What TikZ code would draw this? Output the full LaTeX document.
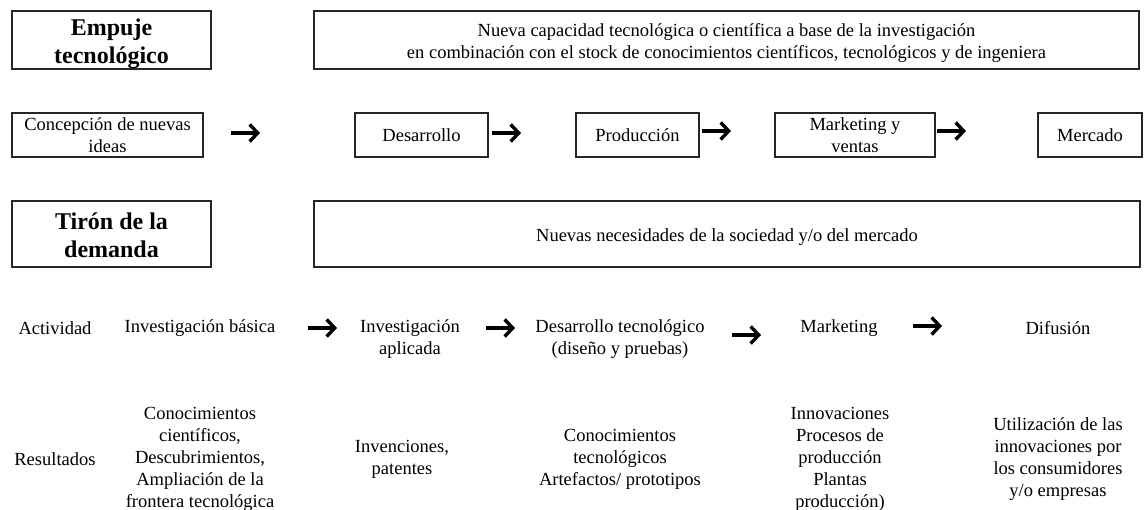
\documentclass[tikz,border=0pt]{standalone}
\usepackage{fontspec}
\setmainfont{Liberation Serif}
\usetikzlibrary{arrows.meta}
\tikzstyle{texto}=[inner sep=0pt,align=center,font=\fontsize{18.5}{22}\selectfont]
\tikzstyle{caja}=[texto,draw=black!85,line width=1.2pt]
\tikzstyle{titulo}=[texto,font=\fontsize{24}{28}\selectfont\bfseries]
\tikzstyle{flecha}=[line width=3.4pt,-{Straight Barb[length=8pt,width=17pt]}]

\begin{document}
\begin{tikzpicture}[x=1pt,y=-1pt]
      \useasboundingbox (0,0) rectangle (1144,510);

      % bloques superiores
      \node[caja,minimum width=199,minimum height=58] (empuje) at (111.5,40) {};
      \node[titulo] (empujet) at ([yshift=-4pt]empuje.center) {Empuje\\tecnológico};
      \node[caja,minimum width=825,minimum height=58] (nueva) at (726.5,40) {};
      \node[texto] (nuevat) at ([yshift=-3pt]nueva.center)
        {Nueva capacidad tecnológica o científica a base de la investigación\\
         en combinación con el stock de conocimientos científicos, tecnológicos y de ingeniera};

      \node[caja,minimum width=191,minimum height=44] (concep) at (107.5,135) {Concepción de nuevas\\ideas};
      \node[caja,minimum width=133,minimum height=44] (desa) at (421.5,135) {Desarrollo};
      \node[caja,minimum width=123,minimum height=44] (prod) at (637.5,135) {Producción};
      \node[caja,minimum width=160,minimum height=44] (mkt) at (855,135) {Marketing y\\ventas};
      \node[caja,minimum width=104,minimum height=44] (merc) at (1090,135) {Mercado};

      \node[caja,minimum width=199,minimum height=66] (tiron) at (111.5,234) {};
      \node[titulo] (tiront) at ([yshift=-1pt]tiron.center) {Tirón de la\\demanda};
      \node[caja,minimum width=826,minimum height=66] (necesid) at (727,234) {};
      \node[texto] (necesidt) at ([yshift=-3pt]necesid.center)
        {Nuevas necesidades de la sociedad y/o del mercado};

      % actividad
      \node[texto] (act) at (55,328) {Actividad};
      \node[texto] (basica) at (200,328) {Investigación básica};
      \node[texto] (aplic) at (410,339) {Investigación\\aplicada};
      \node[texto] (destec) at (620,339) {Desarrollo tecnológico\\(diseño y pruebas)};
      \node[texto] (marke) at (839,328) {Marketing};
      \node[texto] (difus) at (1058,328) {Difusión};

      % resultados
      \node[texto] (res) at (55,459) {Resultados};
      \node[texto] (res1) at (200,459) {Conocimientos\\científicos,\\Descubrimientos,\\Ampliación de la\\frontera tecnológica};
      \node[texto] (res2) at (402,459) {Invenciones,\\patentes};
      \node[texto] (res3) at (620,459) {Conocimientos\\tecnológicos\\Artefactos/ prototipos};
      \node[texto] (res4) at (840,459) {Innovaciones\\Procesos de\\producción\\Plantas\\producción)};
      \node[texto] (res5) at (1058,459) {Utilización de las\\innovaciones por\\los consumidores\\y/o empresas};

      % flechas
      \foreach \i/\x/\y in {1/231/133, 2/492/133, 3/702/131, 4/937/131,
                            5/308/328, 6/486/328, 7/732/335, 8/913/326}{
        \coordinate (f\i a) at (\x,\y);
        \coordinate (f\i b) at (\x+29,\y);
        \draw[flecha] (f\i a) -- (f\i b);
      }
    \end{tikzpicture}
\end{document}
